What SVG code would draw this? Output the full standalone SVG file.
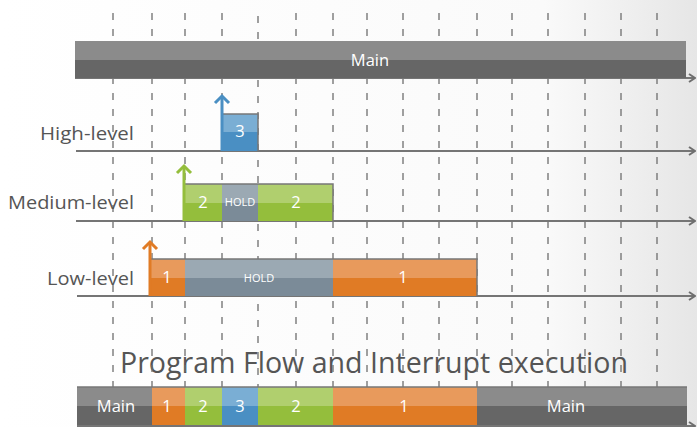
<svg xmlns="http://www.w3.org/2000/svg" width="697" height="427" viewBox="0 0 697 427">
<defs>
<linearGradient id="bg" x1="0" y1="0" x2="1" y2="0">
<stop offset="0" stop-color="#ffffff"/>
<stop offset="0.78" stop-color="#fafafa"/>
<stop offset="1" stop-color="#e6e6e6"/>
</linearGradient>
<marker id="ah" viewBox="0 0 8 10" refX="7" refY="5" markerWidth="8" markerHeight="10" markerUnits="userSpaceOnUse" orient="auto">
<polyline points="1,1 7,5 1,9" fill="none" stroke="#6e6e6e" stroke-width="2"/>
</marker>
</defs>
<style>
.dash{stroke:#6e6e6e;stroke-width:1.3;stroke-dasharray:7 9;fill:none}
.axis{stroke:#757575;stroke-width:2;fill:none}
.lbl{font-family:"Open Sans","DejaVu Sans",sans-serif;font-size:19px;fill:#555;text-anchor:end}
.num{font-family:"Open Sans","DejaVu Sans",sans-serif;font-size:16.5px;fill:#fff;text-anchor:middle}
.hold{font-family:"Open Sans","DejaVu Sans",sans-serif;font-size:11px;fill:#fff;text-anchor:middle}
.gT{fill:#8b8b8b}.gB{fill:#666666}
.bT{fill:#7aaed4}.bB{fill:#4a8fc3}
.grT{fill:#b0cf6e}.grB{fill:#94be3c}
.hT{fill:#9ba9b3}.hB{fill:#7b8b98}
.oT{fill:#e89a5c}.oB{fill:#e07b25}
.edge{fill:none;stroke:#777;stroke-width:1.5}
.trig{fill:none;stroke-width:3}
</style>
<rect x="0" y="0" width="697" height="427" fill="url(#bg)"/>
<text x="374" y="373" font-family="Open Sans, DejaVu Sans, sans-serif" font-size="29" fill="#555" text-anchor="middle" textLength="508" lengthAdjust="spacingAndGlyphs">Program Flow and Interrupt execution</text>
<g id="gridlines">
<line class="dash" x1="113" y1="13" x2="113" y2="427"/>
<line class="dash" x1="152" y1="13" x2="152" y2="427"/>
<line class="dash" x1="185" y1="13" x2="185" y2="427"/>
<line class="dash" x1="222" y1="13" x2="222" y2="427"/>
<line class="dash" x1="258" y1="16" x2="258" y2="427"/>
<line class="dash" x1="296" y1="13" x2="296" y2="427"/>
<line class="dash" x1="333" y1="13" x2="333" y2="427"/>
<line class="dash" x1="367" y1="13" x2="367" y2="427"/>
<line class="dash" x1="403" y1="13" x2="403" y2="427"/>
<line class="dash" x1="439" y1="13" x2="439" y2="427"/>
<line class="dash" x1="477" y1="13" x2="477" y2="427"/>
<line class="dash" x1="512" y1="13" x2="512" y2="427"/>
<line class="dash" x1="548" y1="13" x2="548" y2="427"/>
<line class="dash" x1="585" y1="13" x2="585" y2="427"/>
<line class="dash" x1="621" y1="13" x2="621" y2="427"/>
<line class="dash" x1="657" y1="13" x2="657" y2="427"/>
</g>
<g id="connectors">
<line class="axis" x1="75" y1="78" x2="695" y2="78" marker-end="url(#ah)"/>
<line class="axis" x1="76" y1="151" x2="695" y2="151" marker-end="url(#ah)"/>
<line class="axis" x1="76" y1="221" x2="695" y2="221" marker-end="url(#ah)"/>
<line class="axis" x1="77" y1="296" x2="695" y2="296" marker-end="url(#ah)"/>
<line class="axis" x1="77" y1="426" x2="695" y2="426" marker-end="url(#ah)"/>
</g>
<g id="main">
<rect class="gT" x="75" y="41" width="611" height="19"/>
<rect class="gB" x="75" y="60" width="611" height="18"/>
<text class="num" x="370" y="66">Main</text>
</g>
<g id="high-level">
<text class="lbl" x="134" y="140" textLength="94" lengthAdjust="spacingAndGlyphs">High-level</text>
<rect class="bT" x="222" y="114" width="36" height="18"/>
<rect class="bB" x="222" y="132" width="36" height="19"/>
<polyline class="edge" points="222,114 258,114 258,151"/>
<text class="num" x="240" y="137">3</text>
<g stroke="#4a8fc3" class="trig">
<line x1="222" y1="151" x2="222" y2="97"/>
<polyline points="215,103 222,96 229,103"/>
</g>
</g>
<g id="medium-level">
<text class="lbl" x="134" y="209" textLength="126" lengthAdjust="spacingAndGlyphs">Medium-level</text>
<rect class="grT" x="185" y="184" width="37" height="19"/>
<rect class="grB" x="185" y="203" width="37" height="18"/>
<rect class="hT" x="222" y="184" width="36" height="19"/>
<rect class="hB" x="222" y="203" width="36" height="18"/>
<rect class="grT" x="258" y="184" width="75" height="19"/>
<rect class="grB" x="258" y="203" width="75" height="18"/>
<polyline class="edge" points="185,184 333,184 333,221"/>
<text class="num" x="203" y="208">2</text>
<text class="hold" x="240" y="206">HOLD</text>
<text class="num" x="296" y="208">2</text>
<g stroke="#94be3c" class="trig">
<line x1="184" y1="221" x2="184" y2="167"/>
<polyline points="177,173 184,166 191,173"/>
</g>
</g>
<g id="low-level">
<text class="lbl" x="134" y="285" textLength="87" lengthAdjust="spacingAndGlyphs">Low-level</text>
<rect class="oT" x="150" y="259" width="35" height="19"/>
<rect class="oB" x="150" y="278" width="35" height="18"/>
<rect class="hT" x="185" y="259" width="148" height="19"/>
<rect class="hB" x="185" y="278" width="148" height="18"/>
<rect class="oT" x="333" y="259" width="144" height="19"/>
<rect class="oB" x="333" y="278" width="144" height="18"/>
<polyline class="edge" points="150,259 477,259 477,296"/>
<text class="num" x="167" y="283">1</text>
<text class="hold" x="259" y="282">HOLD</text>
<text class="num" x="403" y="283">1</text>
<g stroke="#e07b25" class="trig">
<line x1="150" y1="296" x2="150" y2="243"/>
<polyline points="143,249 150,242 157,249"/>
</g>
</g>
<g id="program-flow">
<rect class="gT" x="77" y="387" width="75" height="19"/>
<rect class="gB" x="77" y="406" width="75" height="19"/>
<rect class="oT" x="152" y="387" width="33" height="19"/>
<rect class="oB" x="152" y="406" width="33" height="19"/>
<rect class="grT" x="185" y="387" width="37" height="19"/>
<rect class="grB" x="185" y="406" width="37" height="19"/>
<rect class="bT" x="222" y="387" width="36" height="19"/>
<rect class="bB" x="222" y="406" width="36" height="19"/>
<rect class="grT" x="258" y="387" width="75" height="19"/>
<rect class="grB" x="258" y="406" width="75" height="19"/>
<rect class="oT" x="333" y="387" width="144" height="19"/>
<rect class="oB" x="333" y="406" width="144" height="19"/>
<rect class="gT" x="477" y="387" width="210" height="19"/>
<rect class="gB" x="477" y="406" width="210" height="19"/>
<line class="edge" x1="77" y1="387" x2="687" y2="387"/>
<text class="num" x="116" y="412">Main</text>
<text class="num" x="167" y="412">1</text>
<text class="num" x="203" y="412">2</text>
<text class="num" x="240" y="412">3</text>
<text class="num" x="296" y="412">2</text>
<text class="num" x="404" y="412">1</text>
<text class="num" x="566" y="412">Main</text>
</g>
</svg>
